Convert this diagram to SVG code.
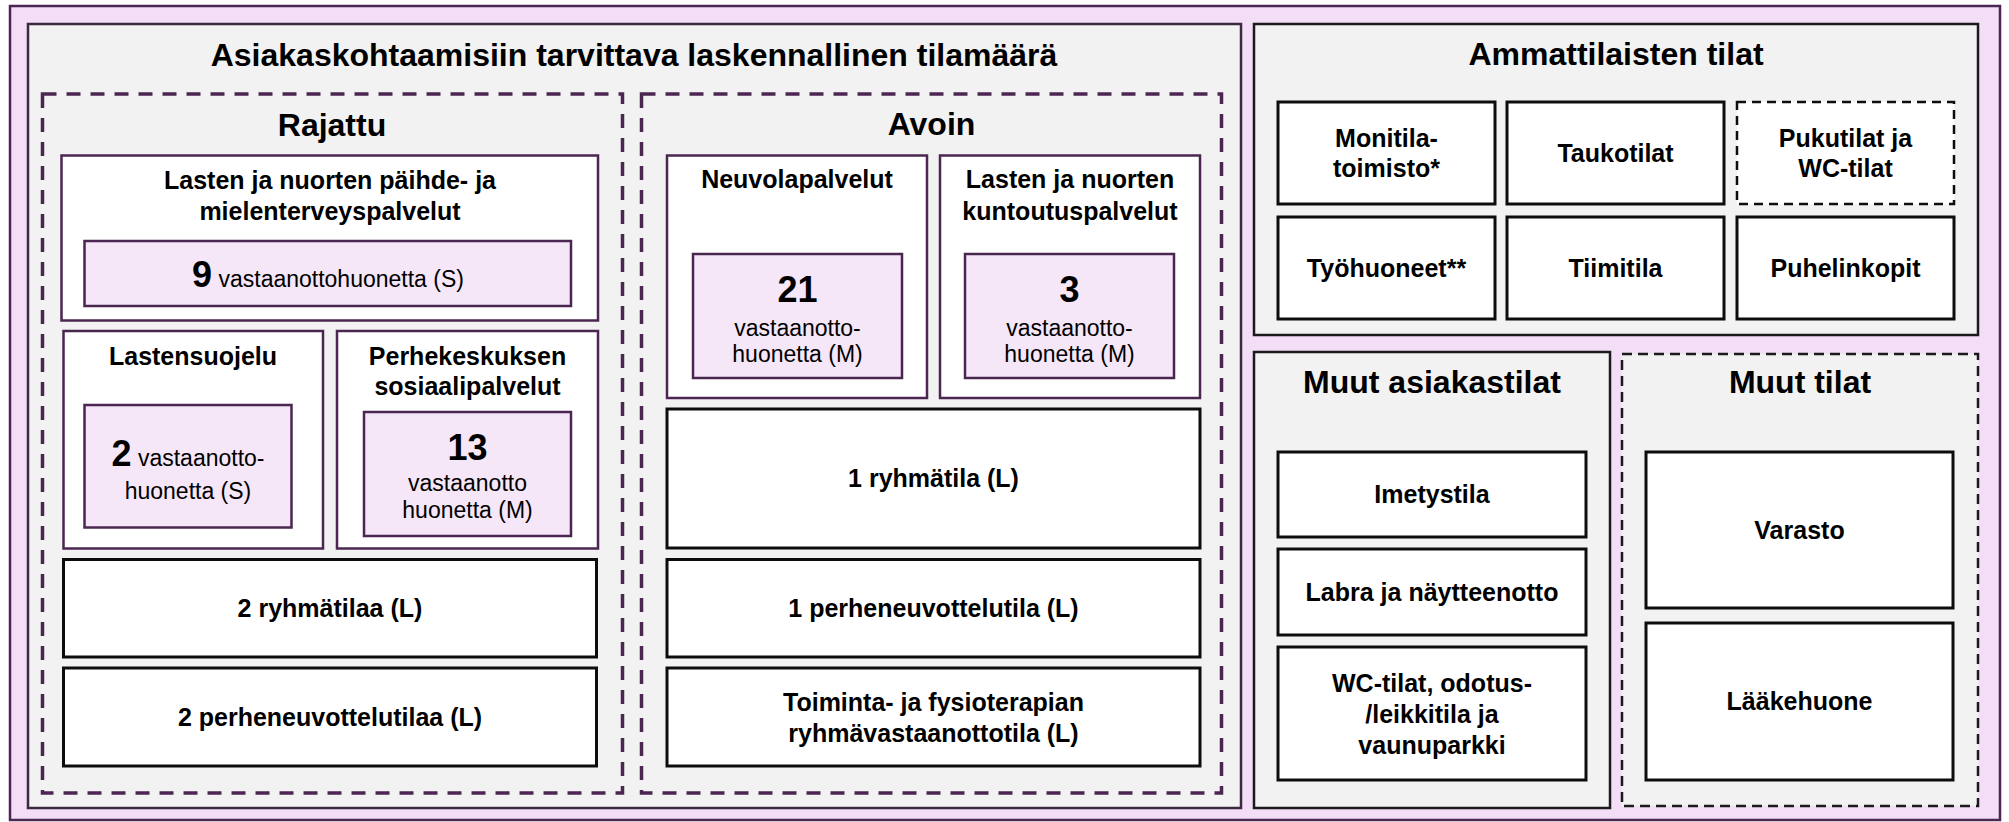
<svg xmlns="http://www.w3.org/2000/svg" width="2009" height="822" viewBox="0 0 2009 822">
<style>
.frame{fill:#F3DDF7;stroke:#4A2650;stroke-width:2.5}
.panel{fill:#F2F2F2;stroke:#3A2A3E;stroke-width:2.5}
.panelk{fill:#F2F2F2;stroke:#1A1A1A;stroke-width:2.5}
.dashp{fill:none;stroke:#4A2650;stroke-width:3.5;stroke-dasharray:14 10}
.dashk{fill:#F2F2F2;stroke:#1A1A1A;stroke-width:2.5;stroke-dasharray:10 6}
.svc{fill:#FFFFFF;stroke:#4A2650;stroke-width:2.5}
.room{fill:#F5E6F8;stroke:#4A2650;stroke-width:2.5}
.box{fill:#FFFFFF;stroke:#0D0D0D;stroke-width:3}
.boxd{fill:#FFFFFF;stroke:#0D0D0D;stroke-width:2.5;stroke-dasharray:9 6}
text{font-family:"Liberation Sans",Arial,sans-serif;fill:#000;text-anchor:middle}
.h{font-size:32px;font-weight:bold}
.l{font-size:25px;font-weight:bold}
.n{font-size:36px;font-weight:bold}
.r{font-size:23px;font-weight:normal}
</style>
<rect class="frame" x="10" y="6" width="1990" height="814"/>

<g id="asiakaskohtaamiset">
<rect class="panel" x="28" y="24" width="1213" height="784"/>
<text class="h" x="634" y="66">Asiakaskohtaamisiin tarvittava laskennallinen tilamäärä</text>
</g>

<g id="rajattu">
<rect class="dashp" x="42.5" y="94" width="580" height="699"/>
<text class="h" x="332" y="136">Rajattu</text>
</g>

<g id="paihde">
<rect class="svc" x="61.5" y="155.5" width="536.5" height="165"/>
<text class="l" x="330" y="189">Lasten ja nuorten päihde- ja</text>
<text class="l" x="330" y="220">mielenterveyspalvelut</text>
</g>
<g id="paihde-huoneet">
<rect class="room" x="84.5" y="241" width="486.5" height="65"/>
<text x="328" y="287"><tspan class="n">9</tspan><tspan class="r"> vastaanottohuonetta (S)</tspan></text>
</g>

<g id="lastensuojelu">
<rect class="svc" x="63.5" y="331" width="259.5" height="217.5"/>
<text class="l" x="193" y="365">Lastensuojelu</text>
</g>
<g id="lastensuojelu-huoneet">
<rect class="room" x="84.5" y="405" width="207" height="122.5"/>
<text x="188" y="466"><tspan class="n">2</tspan><tspan class="r"> vastaanotto-</tspan></text>
<text class="r" x="188" y="499">huonetta (S)</text>
</g>

<g id="perhekeskus">
<rect class="svc" x="337" y="331" width="261" height="217.5"/>
<text class="l" x="467.5" y="365">Perhekeskuksen</text>
<text class="l" x="467.5" y="395">sosiaalipalvelut</text>
</g>
<g id="perhekeskus-huoneet">
<rect class="room" x="364" y="412" width="207" height="124"/>
<text class="n" x="467.5" y="460">13</text>
<text class="r" x="467.5" y="491">vastaanotto</text>
<text class="r" x="467.5" y="518">huonetta (M)</text>
</g>

<g id="rajattu-ryhmatilat">
<rect class="box" x="63.5" y="559.5" width="533" height="97.5"/>
<text class="l" x="330" y="617">2 ryhmätilaa (L)</text>
</g>
<g id="rajattu-perheneuvottelu">
<rect class="box" x="63.5" y="668" width="533" height="98"/>
<text class="l" x="330" y="726">2 perheneuvottelutilaa (L)</text>
</g>

<g id="avoin">
<rect class="dashp" x="641.5" y="94" width="580" height="699"/>
<text class="h" x="931.5" y="135">Avoin</text>
</g>

<g id="neuvola">
<rect class="svc" x="667" y="155.5" width="260" height="242.5"/>
<text class="l" x="797" y="188">Neuvolapalvelut</text>
</g>
<g id="neuvola-huoneet">
<rect class="room" x="693" y="254" width="209" height="124"/>
<text class="n" x="797.5" y="302">21</text>
<text class="r" x="797.5" y="336">vastaanotto-</text>
<text class="r" x="797.5" y="362">huonetta (M)</text>
</g>

<g id="kuntoutus">
<rect class="svc" x="940" y="155.5" width="260" height="242.5"/>
<text class="l" x="1070" y="188">Lasten ja nuorten</text>
<text class="l" x="1070" y="220">kuntoutuspalvelut</text>
</g>
<g id="kuntoutus-huoneet">
<rect class="room" x="965" y="254" width="209" height="124"/>
<text class="n" x="1069.5" y="302">3</text>
<text class="r" x="1069.5" y="336">vastaanotto-</text>
<text class="r" x="1069.5" y="362">huonetta (M)</text>
</g>

<g id="avoin-ryhmatila">
<rect class="box" x="667" y="409" width="533" height="139"/>
<text class="l" x="933.5" y="487">1 ryhmätila (L)</text>
</g>
<g id="avoin-perheneuvottelu">
<rect class="box" x="667" y="559.5" width="533" height="97.5"/>
<text class="l" x="933.5" y="617">1 perheneuvottelutila (L)</text>
</g>
<g id="terapia">
<rect class="box" x="667" y="668" width="533" height="98"/>
<text class="l" x="933.5" y="711">Toiminta- ja fysioterapian</text>
<text class="l" x="933.5" y="742">ryhmävastaanottotila (L)</text>
</g>

<g id="ammattilaiset">
<rect class="panelk" x="1254" y="24" width="724" height="311"/>
<text class="h" x="1616" y="65">Ammattilaisten tilat</text>
</g>
<g id="monitila">
<rect class="box" x="1278" y="102" width="217" height="102"/>
<text class="l" x="1386.5" y="147">Monitila-</text>
<text class="l" x="1386.5" y="177">toimisto*</text>
</g>
<g id="taukotilat">
<rect class="box" x="1507" y="102" width="217" height="102"/>
<text class="l" x="1615.5" y="162">Taukotilat</text>
</g>
<g id="pukutilat">
<rect class="boxd" x="1737" y="102" width="217" height="102"/>
<text class="l" x="1845.5" y="147">Pukutilat ja</text>
<text class="l" x="1845.5" y="177">WC-tilat</text>
</g>
<g id="tyohuoneet">
<rect class="box" x="1278" y="217" width="217" height="102"/>
<text class="l" x="1386.5" y="277">Työhuoneet**</text>
</g>
<g id="tiimitila">
<rect class="box" x="1507" y="217" width="217" height="102"/>
<text class="l" x="1615.5" y="277">Tiimitila</text>
</g>
<g id="puhelinkopit">
<rect class="box" x="1737" y="217" width="217" height="102"/>
<text class="l" x="1845.5" y="277">Puhelinkopit</text>
</g>

<g id="muut-asiakastilat">
<rect class="panelk" x="1254" y="352" width="356" height="456"/>
<text class="h" x="1432" y="393">Muut asiakastilat</text>
</g>
<g id="imetystila">
<rect class="box" x="1278" y="452" width="308" height="85"/>
<text class="l" x="1432" y="503">Imetystila</text>
</g>
<g id="labra">
<rect class="box" x="1278" y="549" width="308" height="86"/>
<text class="l" x="1432" y="601">Labra ja näytteenotto</text>
</g>
<g id="wc-odotus">
<rect class="box" x="1278" y="647" width="308" height="133"/>
<text class="l" x="1432" y="692">WC-tilat, odotus-</text>
<text class="l" x="1432" y="723">/leikkitila ja</text>
<text class="l" x="1432" y="754">vaunuparkki</text>
</g>

<g id="muut-tilat">
<rect class="dashk" x="1622" y="354" width="356" height="452"/>
<text class="h" x="1800" y="393">Muut tilat</text>
</g>
<g id="varasto">
<rect class="box" x="1646" y="452" width="307" height="156"/>
<text class="l" x="1799.5" y="539">Varasto</text>
</g>
<g id="laakehuone">
<rect class="box" x="1646" y="623" width="307" height="157"/>
<text class="l" x="1799.5" y="710">Lääkehuone</text>
</g>

<g id="connectors"></g>
</svg>
